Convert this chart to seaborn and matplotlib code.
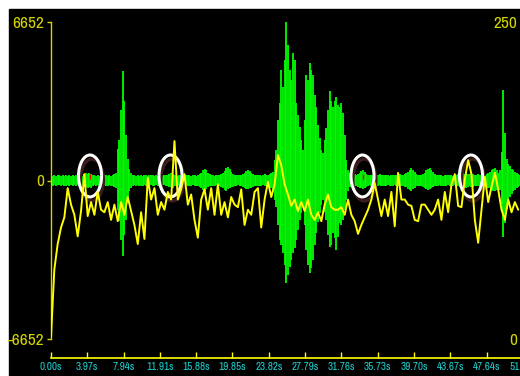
import numpy as np
import pandas as pd
import matplotlib
matplotlib.use('Agg')
import matplotlib.pyplot as plt
from matplotlib.patches import Ellipse, Rectangle
from matplotlib import font_manager
import seaborn as sns

# waveform envelope (max / min per column), one column every 0.1825 s
wave_step = 0.1825
wave_hi = [120, 200, 230, 180, 210, 250, 190, 220, 170, 230, 200, 240, 190, 210, 180, 230, 250, 200, 220, 190,
           260, 300, 280, 330, 270, 240, 210, 190, 230, 200, 250, 180, 220, 210, 190, 240, 200, 230, 260, 300,
           1300, 1700, 2950, 4600, 3350, 1900, 920, 500, 300, 250, 220, 190, 240, 200, 230, 180, 210, 250, 200, 230,
           210, 240, 190, 230, 200, 250, 220, 180, 240, 210, 230, 260, 300, 280, 250, 220, 190, 230, 210, 240,
           200, 230, 210, 250, 190, 220, 240, 200, 230, 260, 320, 420, 500, 450, 330, 260, 220, 240, 200, 230,
           210, 240, 260, 300, 400, 520, 560, 480, 350, 280, 230, 250, 210, 240, 220, 260, 300, 380, 440, 400,
           320, 270, 240, 210, 250, 230, 200, 240, 260, 220, 250, 280, 300, 350,
           860, 1280, 2530, 3240, 4620, 3910, 5040, 6620, 5660, 4620, 4200, 5330, 5040, 3240, 2740,
           2240, 1700, 1280, 2530, 4410, 4200, 4910, 4620, 4410, 3570, 3070, 2320, 1800, 1280, 1150,
           1700, 2200, 2950, 3770, 3350, 3070, 3350, 3490, 3150, 3070, 3240, 2820, 1900, 860, 430,
           300, 250, 220, 260, 230, 280, 320, 380, 420, 350, 280, 240, 210, 250, 230, 200, 240, 220, 260, 210, 230,
           240, 210, 230, 200, 250, 220, 240, 210, 230, 260, 220, 240, 270, 300, 360, 440, 520, 460, 340, 260,
           230, 250, 210, 270, 330, 420, 480, 520, 450, 360, 280, 240, 210, 250, 230, 200, 240, 220, 250, 210,
           230, 200, 250, 220, 260, 240, 280, 300, 270, 320, 290, 260, 300, 280, 250, 230, 260, 220, 240, 210,
           230, 260, 300, 350, 420, 480, 520, 420, 330, 420, 1200, 3800, 2000, 900, 700, 600, 500, 420, 350, 300, 260, 240]
wave_lo = [-120, -210, -180, -240, -200, -170, -230, -190, -220, -250, -180, -210, -200, -240, -190, -220, -170, -230, -210, -200,
           -230, -280, -300, -260, -310, -240, -200, -230, -190, -220, -250, -200, -180, -240, -210, -190, -230, -250, -280, -320,
           -1250, -1700, -2500, -3150, -2300, -1650, -800, -450, -320, -230, -200, -250, -190, -220, -240, -210, -180, -230, -200, -250,
           -200, -230, -250, -190, -220, -210, -240, -200, -180, -230, -250, -280, -260, -300, -240, -210, -230, -190, -220, -250,
           -220, -190, -240, -210, -230, -200, -250, -220, -240, -270, -300, -380, -420, -350, -290, -240, -210, -230, -250, -200,
           -230, -250, -280, -320, -380, -420, -350, -320, -280, -260, -220, -240, -200, -230, -250, -270, -300, -340, -360, -320,
           -300, -260, -230, -250, -210, -240, -220, -200, -250, -230, -260, -280, -310, -340,
           -820, -1110, -1860, -2490, -2700, -3030, -3530, -4280, -3950, -3620, -3320, -3030, -2820, -2490, -2070,
           -1650, -1360, -1110, -1860, -2910, -3530, -3870, -3660, -3320, -2700, -2200, -1740, -1360, -1030, -820,
           -1320, -1650, -2280, -2780, -2700, -2200, -2400, -2910, -2360, -1780, -1860, -1650, -1240, -820, -420,
           -280, -240, -210, -250, -230, -270, -300, -330, -360, -320, -260, -230, -200, -240, -220, -250, -210, -230, -200, -240, -220,
           -220, -250, -200, -230, -210, -240, -200, -230, -250, -220, -240, -210, -260, -290, -340, -390, -420, -360, -300, -250,
           -240, -210, -250, -280, -300, -340, -380, -360, -320, -280, -250, -220, -240, -200, -230, -250, -210, -230, -200, -240,
           -220, -250, -200, -240, -230, -260, -280, -300, -260, -310, -280, -250, -290, -260, -240, -230, -250, -210, -240, -220,
           -240, -270, -300, -330, -380, -420, -460, -380, -320, -400, -1000, -2350, -1800, -1200, -900, -700, -550, -450, -380, -320, -280, -250]

# pitch track (right axis), one value every 0.365 s
pitch_step = 0.365
pitch = [2, 55, 75, 88, 96, 119, 106, 98, 81, 101,
         130, 97, 108, 98, 116, 102, 100, 108, 94, 106,
         93, 108, 98, 112, 101, 90, 75, 100, 79, 127,
         110, 119, 98, 108, 102, 116, 110, 156, 110, 118,
         130, 106, 114, 94, 80, 110, 118, 102, 119, 98,
         122, 98, 108, 96, 112, 106, 104, 118, 90, 102,
         98, 116, 119, 88, 110, 124, 112, 122, 145, 137,
         122, 114, 105, 110, 101, 108, 101, 110, 98, 94,
         100, 93, 106, 114, 104, 102, 102, 104, 98, 110,
         98, 93, 83, 90, 96, 102, 110, 123, 110, 97,
         110, 97, 116, 89, 131, 110, 110, 106, 105, 94,
         93, 106, 106, 102, 98, 102, 110, 94, 116, 100,
         122, 130, 105, 104, 126, 141, 130, 94, 76, 102,
         128, 108, 120, 131, 118, 102, 94, 110, 100, 108,
         102]

# circled spots (seconds) and their level on the waveform axis
marks = [4.27, 13.07, 34.07, 45.94]
mark_level = 190

amp_max = 6652
pitch_max = 250
time_ticks = [0, 3.97, 7.94, 11.91, 15.88, 19.85, 23.82, 27.79, 31.76, 35.73, 39.70, 43.67, 47.64, 51.61]
time_labels = ['0.00s', '3.97s', '7.94s', '11.91s', '15.88s', '19.85s', '23.82s', '27.79s',
               '31.76s', '35.73s', '39.70s', '43.67s', '47.64s', '51.61s']

yel = '#d4d400'
cyan = '#1ecfcf'

sns.set_style('dark')
# the screen font is a tall narrow one; use whatever narrow face is around
fonts = font_manager.fontManager.ttflist
narrow = [f.name for f in fonts if 'Narrow' in f.name or 'Condensed' in f.name]
dejavu_cond = any(f.name == 'DejaVu Sans' and f.stretch != 'normal' for f in fonts)
if narrow:
    plt.rcParams['font.family'] = [narrow[0], 'DejaVu Sans']
    side_size, time_size = 12.5, 8
elif dejavu_cond:
    plt.rcParams['font.family'] = ['DejaVu Sans']
    plt.rcParams['font.stretch'] = 'condensed'
    side_size, time_size = 10, 7.5
else:
    plt.rcParams['font.family'] = ['DejaVu Sans']
    side_size, time_size = 8.5, 6.8

fig = plt.figure(figsize=(5.2, 3.76), dpi=100, facecolor='white')
fig.patches.append(Rectangle((9 / 520, 0), 511 / 520, 367 / 376, transform=fig.transFigure,
                             color='black', zorder=-10))
ax = fig.add_axes([51 / 520, 36.7 / 376, 472.7 / 520, 317.6 / 376])
ax.set_facecolor('black')
ax.grid(False)

t_wave = np.arange(len(wave_hi)) * wave_step
ax.vlines(t_wave, wave_lo, wave_hi, color='#00ff00', lw=1.3)
ax.vlines(marks, mark_level - 120, mark_level + 80, color='red', lw=1)

ax.set_xlim(0, 51.7)
ax.set_ylim(-amp_max, amp_max)
ax.set_yticks([amp_max, 0, -amp_max], labels=['6652', '0', '-6652'])
ax.tick_params(axis='y', left=True, colors=yel, labelcolor=yel, direction='out', length=3, width=1,
               pad=2, labelsize=side_size)
ax.set_xticks(time_ticks, labels=time_labels, ha='right')
ax.tick_params(axis='x', bottom=True, colors='#ffff00', labelcolor=cyan, direction='in', length=4.3,
               width=1, pad=2.5, labelsize=time_size)
for side in ['top', 'right']:
    ax.spines[side].set_visible(False)
ax.spines['left'].set_color(yel)
ax.spines['left'].set_linewidth(1)
ax.spines['bottom'].set_color('#ffff00')
ax.spines['bottom'].set_linewidth(1.2)
ax.spines['bottom'].set_position(('outward', 13.5))

ax2 = ax.twinx()
df = pd.DataFrame({'t': np.arange(len(pitch)) * pitch_step, 'pitch': pitch})
sns.lineplot(data=df, x='t', y='pitch', ax=ax2, color='#ffff00', lw=1.4)
ax2.set_ylim(0, pitch_max)
ax2.set_xlim(0, 51.7)
ax2.set_yticks([0, pitch_max], labels=['0', '250'], ha='right')
ax2.tick_params(axis='y', length=0, pad=-4.8, labelcolor=yel, labelsize=side_size)
ax2.set_ylabel('')
ax2.grid(False)
for side in ax2.spines:
    ax2.spines[side].set_visible(False)

for m in marks:
    ax2.add_patch(Ellipse((m + 0.2, mark_level - 170), 2.52, 1755, transform=ax.transData,
                          fill=False, ec='#3a1c1c', lw=2.4))
    ax2.add_patch(Ellipse((m, mark_level), 2.52, 1755, transform=ax.transData,
                          fill=False, ec='white', lw=2.2))

fig.savefig('out.png', dpi=100, facecolor=fig.get_facecolor())
